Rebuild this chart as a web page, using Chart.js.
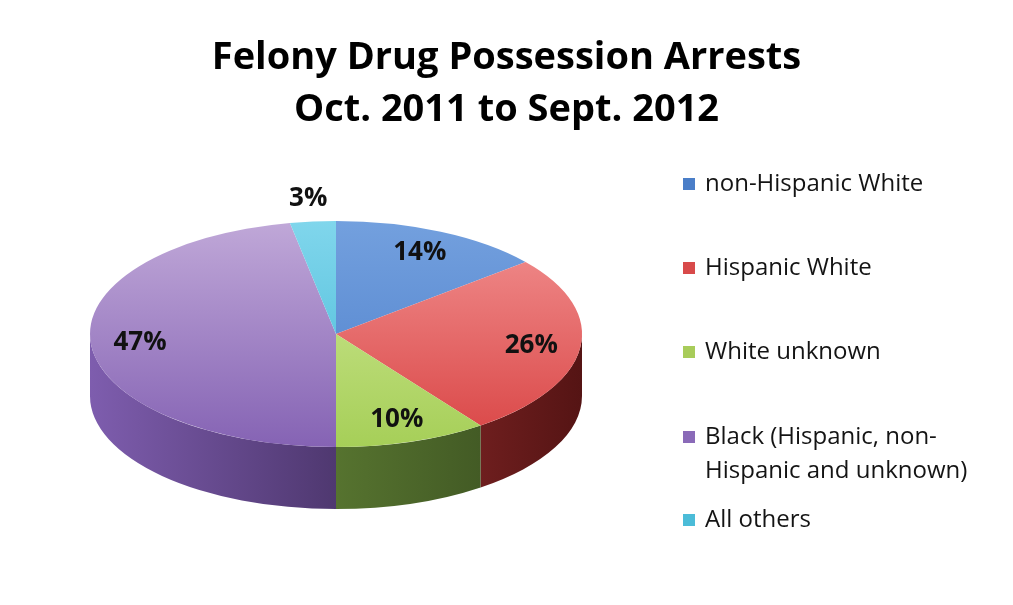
<!DOCTYPE html>
<html>
  <head>
    <meta charset="utf-8">
    <title>Felony Drug Possession Arrests</title>
    <script src="https://cdn.jsdelivr.net/npm/chart.js"></script>
    <style>
      html, body { margin: 0; padding: 0; background: #fff; }
      #wrap { width: 1013px; height: 605px; }
    </style>
  </head>
  <body>
    <div id="wrap"><canvas id="myChart"></canvas></div>
    <script>
      // data
      const categories = ['non-Hispanic White', 'Hispanic White', 'White unknown',
        'Black (Hispanic, non-Hispanic and unknown)', 'All others'];
      const legendLines = [['non-Hispanic White'], ['Hispanic White'], ['White unknown'],
        ['Black (Hispanic, non-', 'Hispanic and unknown)'], ['All others']];
      const shares = [14, 26, 10, 47, 3];

      // colours
      const topLight = ['#73a0de', '#f29292', '#d2e99a', '#c0a8d8', '#80d6ec'];
      const topDark = ['#4d7fcb', '#d94444', '#a6cf58', '#8563b4', '#45b8d6'];
      const sideLight = ['#3c5f96', '#6e1e1e', '#56732f', '#7e5dae', '#2f8aa0'];
      const sideDark = ['#2c4470', '#551414', '#435b25', '#4f3870', '#226a7c'];
      const legendColors = ['#4a7ec8', '#d84a4a', '#a8cc5a', '#8a6ab8', '#4bbcd8'];

      // where the tilted pie sits on the page
      const CX = 336, CY = 334, RX = 246, RY = 113, DEPTH = 62;
      const FONT = '"Open Sans", Lato, sans-serif';

      const pie3d = {
        id: 'pie3d',
        beforeDatasetsDraw(chart) {
          const ctx = chart.ctx;
          const arcs = chart.getDatasetMeta(0).data;
          const a0 = arcs[0];
          ctx.save();
          // side walls (front half only)
          arcs.forEach((arc, i) => {
            const s = Math.max(arc.startAngle, 0);
            const e = Math.min(arc.endAngle, Math.PI);
            if (e <= s) return;
            const xa = CX + RX * Math.cos(s), xb = CX + RX * Math.cos(e);
            const g = ctx.createLinearGradient(Math.min(xa, xb), 0, Math.max(xa, xb), 0);
            g.addColorStop(0, sideLight[i]);
            g.addColorStop(1, sideDark[i]);
            ctx.beginPath();
            ctx.ellipse(CX, CY, RX, RY, 0, s, e);
            ctx.ellipse(CX, CY + DEPTH, RX, RY, 0, e, s, true);
            ctx.closePath();
            ctx.fillStyle = g;
            ctx.fill();
          });
          // squash the library's pie into the top face
          ctx.translate(CX, CY);
          ctx.scale(RX / a0.outerRadius, RY / a0.outerRadius);
          ctx.translate(-a0.x, -a0.y);
        },
        afterDatasetsDraw(chart) {
          const ctx = chart.ctx;
          ctx.restore();
          const arcs = chart.getDatasetMeta(0).data;
          ctx.save();
          ctx.font = 'bold 26px ' + FONT;
          ctx.fillStyle = '#111';
          ctx.textAlign = 'center';
          ctx.textBaseline = 'middle';
          arcs.forEach((arc, i) => {
            const mid = (arc.startAngle + arc.endAngle) / 2;
            const f = shares[i] < 5 ? 1.2 : 0.8;
            ctx.fillText(shares[i] + '%', CX + RX * f * Math.cos(mid), CY + RY * f * Math.sin(mid));
          });
          ctx.restore();
        },
        afterDraw(chart) {
          // legend on the right
          const ctx = chart.ctx;
          const ys = [184, 268, 352, 437, 520];
          ctx.save();
          ctx.font = '24px ' + FONT;
          ctx.textBaseline = 'middle';
          ctx.textAlign = 'left';
          chart.data.labels.forEach((lab, i) => {
            ctx.fillStyle = legendColors[i];
            ctx.fillRect(683, ys[i] - 6, 12, 12);
            ctx.fillStyle = '#141414';
            legendLines[i].forEach((line, j) => ctx.fillText(line, 705, ys[i] + j * 34));
          });
          ctx.restore();
        }
      };

      function topFill(c) {
        const i = c.dataIndex;
        const area = c.chart.chartArea;
        if (!area) return topDark[i];
        const g = c.chart.ctx.createLinearGradient(0, area.top, 0, area.bottom);
        g.addColorStop(0, topLight[i]);
        g.addColorStop(1, topDark[i]);
        return g;
      }

      const ctx = document.getElementById('myChart').getContext('2d');
      new Chart(ctx, {
        type: 'pie',
        data: {
          labels: categories,
          datasets: [{
            data: shares,
            backgroundColor: topFill,
            borderWidth: 0
          }]
        },
        options: {
          responsive: true,
          maintainAspectRatio: false,
          animation: false,
          events: [],
          plugins: {
            legend: { display: false },
            tooltip: { enabled: false },
            title: {
              display: true,
              text: ['Felony Drug Possession Arrests', 'Oct. 2011 to Sept. 2012'],
              color: '#000',
              font: { family: FONT, size: 38, weight: 'bold', lineHeight: 1.37 },
              padding: { top: 32, bottom: 10 }
            }
          }
        },
        plugins: [pie3d]
      });
    </script>
  </body>
</html>
